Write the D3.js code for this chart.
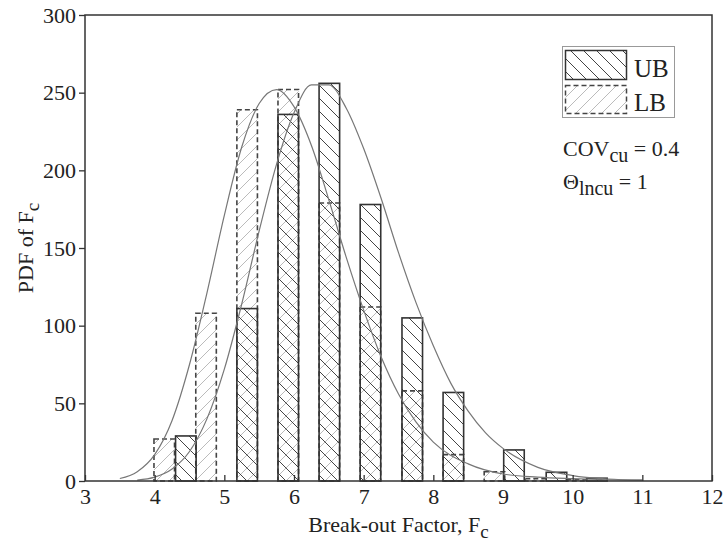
<!DOCTYPE html>
<html><head><meta charset="utf-8">
<script src="https://cdn.jsdelivr.net/npm/d3@7/dist/d3.min.js"></script>
<style>body{margin:0;background:#fff}svg{display:block}text{font-family:"Liberation Serif","DejaVu Serif",serif;fill:#222}</style>
</head><body><svg id="c" width="723" height="547"></svg>
<script>
// ---- data ----
const ubStart = [4.30, 5.18, 5.77, 6.36, 6.95, 7.55, 8.14, 9.01, 9.62, 10.20];
const ubValue = [29, 111, 236, 256, 178, 105, 57, 20, 5.6, 1.8];
const lbStart = [3.99, 4.59, 5.18, 5.77, 6.36, 6.95, 7.55, 8.14, 8.73, 9.32, 9.91];
const lbValue = [27, 108, 239, 252, 179, 112, 58, 17, 6, 1.5, 0.8];
const barWidth = 0.295;
const ubCurveX = [3.75, 4.0, 4.25, 4.5, 4.75, 5.0, 5.25, 5.5, 5.75, 6.0, 6.25, 6.5, 6.75, 7.0, 7.25, 7.5, 7.75, 8.0, 8.25, 8.5, 8.75, 9.0, 9.5, 10.0, 10.5, 11.0];
const ubCurveY = [0.6, 2.5, 7.7, 19, 40, 72, 114, 161, 204, 237, 255, 255, 240, 214, 182, 147, 115, 87, 63, 45, 31, 21, 8.8, 3.5, 1.3, 0.5];
const lbCurveX = [3.5, 3.75, 4.0, 4.25, 4.5, 4.75, 5.0, 5.25, 5.5, 5.75, 6.0, 6.25, 6.5, 6.75, 7.0, 7.25, 7.5, 7.75, 8.0, 8.5, 9.0, 9.5, 10.0, 10.5, 11.0];
const lbCurveY = [1.6, 6, 17, 39, 75, 121, 171, 215, 243, 252, 241, 216, 181, 144, 110, 80, 56, 38, 25, 11, 4.5, 2.5, 1.5, 0.8, 0.5];
const xTicks = [3, 4, 5, 6, 7, 8, 9, 10, 11, 12];
const yTicks = [0, 50, 100, 150, 200, 250, 300];
const seriesNames = ["UB", "LB"];

// ---- layout ----
const svg = d3.select("#c");
const L = 85, R = 712, T = 15, B = 481;
const x = d3.scaleLinear().domain([3, 12]).range([L, R]);
const y = d3.scaleLinear().domain([0, 300]).range([B, T]);

const defs = svg.append("defs");
const pUB = defs.append("pattern").attr("id", "hUB").attr("patternUnits", "userSpaceOnUse")
  .attr("width", 13).attr("height", 13);
pUB.append("path").attr("d", "M-3,-3L16,16M-3,10L3,16M10,-3L16,3").attr("stroke", "#444").attr("stroke-width", 1);
const pLB = defs.append("pattern").attr("id", "hLB").attr("patternUnits", "userSpaceOnUse")
  .attr("width", 13).attr("height", 13);
pLB.append("path").attr("d", "M-3,16L16,-3M-3,3L3,-3M10,16L16,10").attr("stroke", "#bbb").attr("stroke-width", 1);

const lbData = lbStart.map((s, i) => ({s, v: lbValue[i]}));
const ubData = ubStart.map((s, i) => ({s, v: ubValue[i]}));

// LB bars
svg.append("g").selectAll("rect").data(lbData).join("rect")
  .attr("x", d => x(d.s)).attr("width", d => x(d.s + barWidth) - x(d.s))
  .attr("y", d => y(d.v)).attr("height", d => y(0) - y(d.v))
  .attr("fill", "url(#hLB)").attr("stroke", "#444").attr("stroke-width", 1.6)
  .attr("stroke-dasharray", "5,3");
// UB bars
svg.append("g").selectAll("rect").data(ubData).join("rect")
  .attr("x", d => x(d.s)).attr("width", d => x(d.s + barWidth) - x(d.s))
  .attr("y", d => y(d.v)).attr("height", d => y(0) - y(d.v))
  .attr("fill", "url(#hUB)").attr("stroke", "#333").attr("stroke-width", 1.6);

// curves
const line = d3.line().x(d => x(d[0])).y(d => y(d[1])).curve(d3.curveMonotoneX);
svg.append("path").datum(lbCurveX.map((v, i) => [v, lbCurveY[i]])).attr("d", line)
  .attr("fill", "none").attr("stroke", "#777").attr("stroke-width", 1.2);
svg.append("path").datum(ubCurveX.map((v, i) => [v, ubCurveY[i]])).attr("d", line)
  .attr("fill", "none").attr("stroke", "#777").attr("stroke-width", 1.2);

// axes
const xa = svg.append("g").attr("transform", `translate(0,${B})`)
  .call(d3.axisBottom(x).tickValues(xTicks).tickSize(-6).tickPadding(7).tickFormat(d3.format("d")));
const ya = svg.append("g").attr("transform", `translate(${L},0)`)
  .call(d3.axisLeft(y).tickValues(yTicks).tickSize(6).tickPadding(3).tickFormat(d3.format("d")));
[xa, ya].forEach(a => {
  a.select(".domain").remove();
  a.selectAll("line").attr("stroke", "#333").attr("stroke-width", 1.3);
  a.selectAll("text").attr("font-size", 22).attr("font-family", "Liberation Serif").attr("fill", "#222");
});
xa.selectAll("text").attr("dy", "0.71em");
// frame
svg.append("rect").attr("x", L).attr("y", T).attr("width", R - L).attr("height", B - T)
  .attr("fill", "none").attr("stroke", "#333").attr("stroke-width", 1.5);

// axis titles
const xt = svg.append("text").attr("x", (L + R) / 2).attr("y", 532).attr("text-anchor", "middle").attr("font-size", 22);
xt.append("tspan").text("Break-out Factor, F");
xt.append("tspan").attr("dy", 6).attr("font-size", 19).text("c");
const yt = svg.append("text").attr("transform", "translate(33,248) rotate(-90)").attr("text-anchor", "middle").attr("font-size", 22);
yt.append("tspan").text("PDF of F");
yt.append("tspan").attr("dy", 6).attr("font-size", 19).text("c");

// legend
const lg = svg.append("g");
lg.append("rect").attr("x", 562.5).attr("y", 46.5).attr("width", 112).attr("height", 71)
  .attr("fill", "#fff").attr("stroke", "#999").attr("stroke-width", 1);
lg.append("rect").attr("x", 565.5).attr("y", 50.5).attr("width", 61).attr("height", 29)
  .attr("fill", "url(#hUB)").attr("stroke", "#333").attr("stroke-width", 1.5);
lg.append("rect").attr("x", 565.5).attr("y", 85.5).attr("width", 61).attr("height", 28)
  .attr("fill", "url(#hLB)").attr("stroke", "#444").attr("stroke-width", 1.5).attr("stroke-dasharray", "5,3");
lg.append("text").attr("x", 634).attr("y", 77).attr("font-size", 25).text(seriesNames[0]);
lg.append("text").attr("x", 634).attr("y", 111).attr("font-size", 25).text(seriesNames[1]);

// annotations
const a1 = svg.append("text").attr("x", 563).attr("y", 156).attr("font-size", 22);
a1.append("tspan").text("COV");
a1.append("tspan").attr("dy", 6).attr("font-size", 20).text("cu");
a1.append("tspan").attr("dy", -6).text(" = 0.4");
const a2 = svg.append("text").attr("x", 563).attr("y", 189).attr("font-size", 22);
a2.append("tspan").text("Θ");
a2.append("tspan").attr("dy", 6).attr("font-size", 20).text("lncu");
a2.append("tspan").attr("dy", -6).text(" = 1");
</script></body></html>
